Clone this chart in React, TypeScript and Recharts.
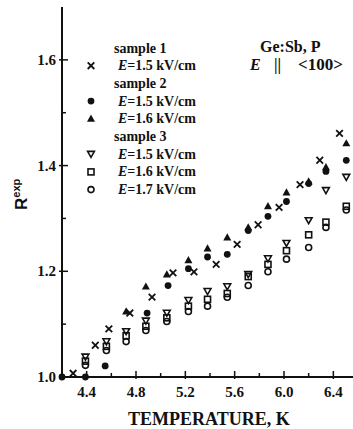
import React from 'react';
import { ScatterChart, Scatter, XAxis, YAxis } from 'recharts';

// sample 1, E = 1.5 kV/cm (crosses)
const s1Temp = [4.29, 4.47, 4.58, 4.75, 4.93, 5.1, 5.27, 5.45, 5.62, 5.79, 5.96, 6.13, 6.29, 6.45];
const s1R = [1.007, 1.06, 1.091, 1.121, 1.151, 1.197, 1.199, 1.213, 1.251, 1.288, 1.321, 1.364, 1.41, 1.461];

// sample 2, E = 1.5 kV/cm (filled circles)
const s2aTemp = [4.2, 4.39, 4.55, 4.89, 5.06, 5.225, 5.38, 5.54, 5.71, 5.87, 6.02, 6.2, 6.34, 6.505];
const s2aR = [1.0, 1.0, 1.021, 1.121, 1.173, 1.205, 1.227, 1.232, 1.277, 1.304, 1.332, 1.366, 1.389, 1.41];

// sample 2, E = 1.6 kV/cm (filled triangles)
const s2bTemp = [4.72, 4.88, 5.05, 5.225, 5.38, 5.54, 5.71, 5.87, 6.02, 6.2, 6.34, 6.505];
const s2bR = [1.124, 1.171, 1.194, 1.221, 1.243, 1.264, 1.283, 1.323, 1.349, 1.37, 1.397, 1.442];

// sample 3 shares one set of temperatures
const s3Temp = [4.39, 4.56, 4.72, 4.88, 5.05, 5.225, 5.38, 5.54, 5.71, 5.87, 6.02, 6.2, 6.34, 6.505];
const s3aR = [1.038, 1.067, 1.086, 1.106, 1.121, 1.145, 1.162, 1.171, 1.194, 1.224, 1.253, 1.296, 1.353, 1.378];
const s3bR = [1.03, 1.058, 1.078, 1.096, 1.112, 1.134, 1.147, 1.158, 1.19, 1.213, 1.239, 1.269, 1.293, 1.323];
const s3cR = [1.022, 1.05, 1.067, 1.088, 1.105, 1.124, 1.134, 1.151, 1.173, 1.199, 1.223, 1.245, 1.283, 1.316];

const xTicks = [4.4, 4.6, 4.8, 5.0, 5.2, 5.4, 5.6, 5.8, 6.0, 6.2, 6.4];
const xLabels = ['4.4', '4.8', '5.2', '5.6', '6.0', '6.4'];
const yTicks = [1.0, 1.1, 1.2, 1.3, 1.4, 1.5, 1.6];
const yLabels = ['1.0', '1.2', '1.4', '1.6'];

const toPoints = (t: number[], r: number[]) => t.map((x, i) => ({ x, y: r[i] }));

const FONT = '"Liberation Serif", "Times New Roman", serif';
const INK = '#111';

const Cross = ({ cx, cy }: any) => (
  <g stroke={INK} strokeWidth={1.8}>
    <line x1={cx - 3.3} y1={cy - 3.3} x2={cx + 3.3} y2={cy + 3.3} />
    <line x1={cx - 3.3} y1={cy + 3.3} x2={cx + 3.3} y2={cy - 3.3} />
  </g>
);
const Dot = ({ cx, cy }: any) => <circle cx={cx} cy={cy} r={3.4} fill={INK} />;
const TriUp = ({ cx, cy }: any) => (
  <polygon points={`${cx},${cy - 4.2} ${cx - 4},${cy + 3} ${cx + 4},${cy + 3}`} fill={INK} />
);
const TriDown = ({ cx, cy }: any) => (
  <polygon
    points={`${cx - 3.4},${cy - 2.8} ${cx + 3.4},${cy - 2.8} ${cx},${cy + 3.2}`}
    fill="none"
    stroke={INK}
    strokeWidth={1.6}
  />
);
const Box = ({ cx, cy }: any) => (
  <rect x={cx - 3} y={cy - 3} width={6} height={6} fill="none" stroke={INK} strokeWidth={1.6} />
);
const Ring = ({ cx, cy }: any) => <circle cx={cx} cy={cy} r={3} fill="none" stroke={INK} strokeWidth={1.6} />;

const BottomTick = (props: any) => {
  const { x, y, payload } = props;
  const label = payload.value.toFixed(1);
  const major = xLabels.includes(label);
  return (
    <g>
      <line x1={x} x2={x} y1={y + (major ? 2 : 0)} y2={y - (major ? 6 : 4)} stroke={INK} strokeWidth={1.5} />
      {major && (
        <text x={x} y={y + 20} textAnchor="middle" fontFamily={FONT} fontWeight="bold" fontSize={15} fill={INK}>
          {label}
        </text>
      )}
    </g>
  );
};

const TopTick = (props: any) => {
  const { x, y } = props;
  return <line x1={x} x2={x} y1={y} y2={y + 5} stroke={INK} strokeWidth={1.5} />;
};

const LeftTick = (props: any) => {
  const { x, y, payload } = props;
  const label = payload.value.toFixed(1);
  const major = yLabels.includes(label);
  return (
    <g>
      {label !== '1.0' && (
        <line x1={x - (major ? 3 : 0)} x2={x + (major ? 6 : 4)} y1={y} y2={y} stroke={INK} strokeWidth={1.5} />
      )}
      {major && (
        <text x={x - 6} y={y + 5} textAnchor="end" fontFamily={FONT} fontWeight="bold" fontSize={15} fill={INK}>
          {label}
        </text>
      )}
    </g>
  );
};

const legendRows = [
  { kind: 'head', text: 'sample 1' },
  { kind: 'cross', text: '=1.5 kV/cm' },
  { kind: 'head', text: 'sample 2' },
  { kind: 'dot', text: '=1.5 kV/cm' },
  { kind: 'triUp', text: '=1.6 kV/cm' },
  { kind: 'head', text: 'sample 3' },
  { kind: 'triDown', text: '=1.5 kV/cm' },
  { kind: 'box', text: '=1.6 kV/cm' },
  { kind: 'ring', text: '=1.7 kV/cm' },
];

const markerFor: Record<string, (p: any) => React.ReactElement> = {
  cross: Cross,
  dot: Dot,
  triUp: TriUp,
  triDown: TriDown,
  box: Box,
  ring: Ring,
};

export default function App() {
  return (
    <div style={{ position: 'absolute', left: 0, top: 0, width: 353, height: 429, overflow: 'hidden', background: '#fff' }}>
      <ScatterChart width={380} height={429} margin={{ top: 7, right: 22, left: 12, bottom: 22 }}>
        <XAxis
          xAxisId="top"
          orientation="top"
          type="number"
          dataKey="x"
          domain={[4.2, 6.6]}
          ticks={xTicks}
          interval={0}
          height={0}
          tickSize={0}
          tickMargin={0}
          tick={<TopTick />}
          tickLine={false}
          axisLine={{ stroke: INK, strokeWidth: 2 }}
        />
        <XAxis
          type="number"
          dataKey="x"
          domain={[4.2, 6.6]}
          ticks={xTicks}
          interval={0}
          height={30}
          tickSize={0}
          tickMargin={0}
          tick={<BottomTick />}
          tickLine={false}
          axisLine={{ stroke: INK, strokeWidth: 2 }}
        />
        <YAxis
          type="number"
          dataKey="y"
          domain={[1.0, 1.7]}
          ticks={yTicks}
          interval={0}
          width={50}
          tickSize={0}
          tickMargin={0}
          tick={<LeftTick />}
          tickLine={false}
          axisLine={{ stroke: INK, strokeWidth: 2 }}
        />
        <Scatter data={toPoints(s3Temp, s3aR)} shape={TriDown} isAnimationActive={false} />
        <Scatter data={toPoints(s3Temp, s3bR)} shape={Box} isAnimationActive={false} />
        <Scatter data={toPoints(s3Temp, s3cR)} shape={Ring} isAnimationActive={false} />
        <Scatter data={toPoints(s2bTemp, s2bR)} shape={TriUp} isAnimationActive={false} />
        <Scatter data={toPoints(s2aTemp, s2aR)} shape={Dot} isAnimationActive={false} />
        <Scatter data={toPoints(s1Temp, s1R)} shape={Cross} isAnimationActive={false} />
      </ScatterChart>
      <svg
        width={353}
        height={429}
        style={{ position: 'absolute', left: 0, top: 0, pointerEvents: 'none' }}
        fontFamily={FONT}
        fontWeight="bold"
        fill={INK}
      >
        {legendRows.map((row, i) => {
          const cy = 48 + i * 17.7;
          if (row.kind === 'head') {
            return (
              <text key={i} x={114} y={cy + 4.5} fontSize={14}>
                {row.text}
              </text>
            );
          }
          const M = markerFor[row.kind];
          return (
            <g key={i}>
              <M cx={91} cy={cy} />
              <text x={118} y={cy + 4.5} fontSize={14}>
                <tspan fontStyle="italic">E</tspan>
                {row.text}
              </text>
            </g>
          );
        })}
        <text x={260} y={52} fontSize={16}>Ge:Sb, P</text>
        <text y={70} fontSize={16}>
          <tspan x={250} fontStyle="italic">E</tspan>
          <tspan x={274}>||</tspan>
          <tspan x={298} fontSize={17}>&lt;100&gt;</tspan>
        </text>
        <text x={128} y={425} fontSize={18}>TEMPERATURE, K</text>
        <text transform="translate(27,210) rotate(-90)" fontFamily='"Liberation Sans", Arial, sans-serif' fontSize={17}>
          R<tspan dy={-7} fontSize={11}>exp</tspan>
        </text>
      </svg>
    </div>
  );
}
